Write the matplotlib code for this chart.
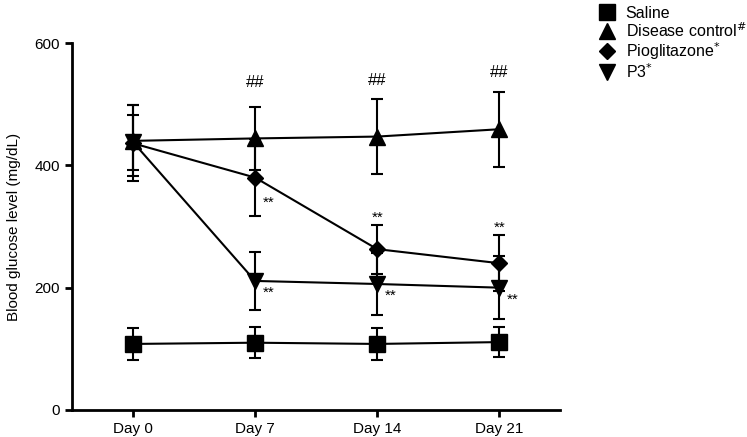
import matplotlib.pyplot as plt
from matplotlib.lines import Line2D

plt.rcParams['font.family'] = ['Liberation Sans', 'DejaVu Sans']

days = ["Day 0", "Day 7", "Day 14", "Day 21"]

saline = [108, 110, 108, 111]
saline_err = [26, 25, 26, 25]
disease = [440, 444, 447, 459]
disease_err = [58, 51, 61, 61]
pio = [436, 380, 263, 240]
pio_err = [62, 63, 40, 46]
p3 = [438, 211, 206, 200]
p3_err = [45, 48, 50, 51]

# significance marks
hash_days = [1, 2, 3]
star_pio = [1, 2, 3]
star_p3 = [1, 2, 3]

fig = plt.figure(figsize=(7.47, 4.37), dpi=100)
ax = fig.add_axes([0.0964, 0.0618, 0.6536, 0.8398])

x = list(range(len(days)))
series = [
    (saline, saline_err, 's', 11, "Saline"),
    (disease, disease_err, '^', 12, "Disease control$^{\\#}$"),
    (pio, pio_err, 'D', 8.5, "Pioglitazone$^{*}$"),
    (p3, p3_err, 'v', 12, "P3$^{*}$"),
]
handles = []
labels = []
for vals, err, mk, ms, lab in series:
    ax.errorbar(x, vals, yerr=err, color='black', marker=mk, markersize=ms,
                linewidth=1.5, elinewidth=1.5, capsize=4, capthick=1.5)
    handles.append(Line2D([], [], color='black', marker=mk, markersize=ms, linestyle='none'))
    labels.append(lab)

for i in hash_days:
    ax.text(i, disease[i] + 92, "##", ha='center', va='center', fontsize=12)
# stars for pioglitazone
ax.text(star_pio[0] + 0.06, pio[star_pio[0]] - 42, "**", ha='left', va='center', fontsize=11)
for i in star_pio[1:]:
    ax.text(i, pio[i] + pio_err[i] + 12, "**", ha='center', va='center', fontsize=11)
for i in star_p3:
    ax.text(i + 0.06, p3[i] - 19, "**", ha='left', va='center', fontsize=11)

ax.set_xlim(-0.5, 3.5)
ax.set_ylim(0, 600)
ax.set_yticks([0, 200, 400, 600])
ax.set_xticks(x)
ax.set_xticklabels(days)
ax.set_ylabel("Blood glucose level (mg/dL)", fontsize=11, labelpad=10)
for s in ['top', 'right']:
    ax.spines[s].set_visible(False)
for s in ['left', 'bottom']:
    ax.spines[s].set_linewidth(2)
ax.tick_params(width=2, length=5, labelsize=11)

leg = fig.legend(handles, labels, loc='upper left', bbox_to_anchor=(0.797, 0.99),
                 frameon=False, fontsize=11.5,
                 handlelength=1.2, handletextpad=0.6, labelspacing=0.02,
                 borderaxespad=0.0, borderpad=0.1)

fig.savefig("out.png", dpi=100)
